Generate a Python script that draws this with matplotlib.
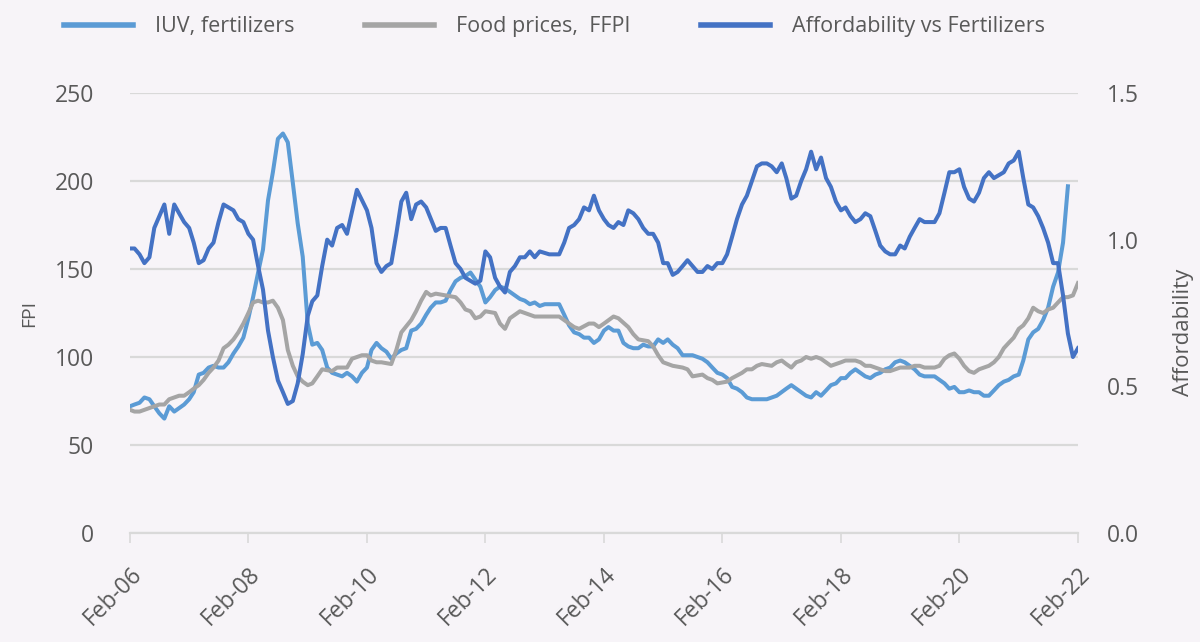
import pandas as pd
import matplotlib
matplotlib.use("Agg")
import matplotlib.pyplot as plt
import matplotlib.dates as mdates

# Kuukausia alkaen Feb-06 (0 = helmikuu 2006)
iuv_months = list(range(0, 85)) + list(range(86, 127)) + list(range(128, 132)) + list(range(133, 191))
iuv_values = [72, 73, 74, 77, 76, 72, 68, 65, 72, 69, 71, 73, 76, 80, 90, 91, 94, 95, 94, 94,
              97, 102, 106, 111, 122, 134, 148, 161, 189, 205, 224, 227, 222, 199, 176, 157, 119, 107, 108, 104,
              94, 91, 90, 89, 91, 89, 86, 91, 94, 104, 108, 105, 103, 99, 102, 104, 105, 115, 116, 119,
              124, 128, 131, 131, 132, 138, 143, 145, 146, 148, 144, 140, 131, 134, 138, 140, 139, 137, 135, 133,
              132, 130, 131, 129, 130,
              130, 130, 124, 118, 114, 113, 111, 111, 108, 110, 115, 117, 115, 115, 108, 106, 105, 105, 107, 106,
              106, 110, 108, 110, 107, 105, 101, 101, 101, 100, 99, 97, 94, 91, 90, 88, 83, 82, 80, 77, 76,
              76, 76, 77, 78,
              82, 84, 82, 80, 78, 77, 80, 78, 81, 84, 85, 88, 88, 91, 93, 91, 89, 88, 90, 91, 93, 94, 97, 98,
              97, 95, 93, 90, 89, 89, 89, 87, 85, 82, 83, 80, 80, 81, 80, 80, 78, 78, 81, 84, 86, 87, 89, 90,
              98, 110, 114, 116, 121, 128, 140, 148, 165, 197]

ffpi_months = (list(range(0, 40)) + [41, 42, 44, 45, 47, 48, 49, 50, 51, 53, 54, 55, 57, 58, 59, 60, 61, 62,
               64, 66, 67, 68, 69, 70, 71, 72, 74, 75, 76, 77, 78, 79, 81, 82, 84, 85, 87, 88, 90, 91, 93, 94,
               95, 96, 98, 99, 101, 102, 103, 105, 106, 107, 108, 110, 112, 113, 114, 116, 117, 118, 119, 121,
               122, 124, 125, 126, 127, 128] + list(range(130, 193)))
ffpi_values = [70, 69, 69, 70, 71, 72, 73, 73, 76, 77, 78, 78, 80, 82, 84, 87, 91, 94, 98, 105,
               107, 110, 114, 119, 125, 131, 132, 131, 131, 132, 128, 121, 104, 95, 89, 86, 84, 85, 89, 93,
               92, 94, 94, 99, 101, 101, 98, 97, 97, 96, 104, 114, 121, 126, 132, 137, 135, 136,
               135, 134, 131, 127, 126, 122, 123, 126, 125, 119, 116, 122, 124, 126, 124, 123, 123, 123,
               123, 121, 117, 116, 119, 119, 117, 119, 123, 122, 117, 113, 110, 109, 106, 101, 97, 95,
               94, 93, 89, 90, 88, 87, 85, 86, 88, 91, 93, 93, 95, 96,
               95, 97, 98, 96, 94, 97, 98, 100, 99, 100, 99, 97, 95, 96, 97, 98, 98, 98, 97, 95, 95,
               94, 93, 92, 92, 93, 94, 94, 94, 95, 95, 94, 94, 94, 95, 99, 101, 102, 99, 95, 92, 91,
               93, 94, 95, 97, 100, 105, 108, 111, 116, 118, 122, 128, 126, 125, 127, 128, 131, 134,
               134, 135, 142]

aff_months = (list(range(0, 20)) + list(range(21, 45)) + [46] + list(range(48, 61)) + list(range(62, 84))
              + list(range(85, 193)))
aff_values = [0.97, 0.97, 0.95, 0.92, 0.94, 1.04, 1.08, 1.12, 1.02, 1.12, 1.09, 1.06, 1.04, 0.99, 0.92,
              0.93, 0.97, 0.99, 1.06, 1.12,
              1.10, 1.07, 1.06, 1.02, 1.00, 0.91, 0.83, 0.69, 0.60, 0.52, 0.48, 0.44, 0.45, 0.51, 0.61,
              0.74, 0.79, 0.81, 0.91, 1.00, 0.98, 1.04, 1.05, 1.02,
              1.17,
              1.10, 1.04, 0.92, 0.89, 0.91, 0.92, 1.02, 1.13, 1.16, 1.07, 1.12, 1.13, 1.11,
              1.03, 1.04, 1.04, 0.98, 0.92, 0.90, 0.87, 0.86, 0.85, 0.86, 0.96, 0.94, 0.87, 0.84, 0.82,
              0.89, 0.91, 0.94, 0.94, 0.96, 0.94, 0.96,
              0.95, 0.95, 0.95, 0.99, 1.04, 1.05, 1.07, 1.11, 1.10, 1.15, 1.10, 1.07, 1.05, 1.04, 1.06,
              1.05, 1.10, 1.09, 1.07, 1.04, 1.02, 1.02, 0.99, 0.92, 0.92, 0.88, 0.89, 0.91, 0.93, 0.91,
              0.89, 0.89, 0.91, 0.90, 0.92, 0.92, 0.95, 1.01, 1.07, 1.12, 1.15, 1.20, 1.25, 1.26, 1.26,
              1.25, 1.23, 1.26, 1.21, 1.14, 1.15, 1.20, 1.24, 1.30, 1.24, 1.28, 1.21, 1.18, 1.13, 1.10,
              1.11, 1.08, 1.06, 1.07, 1.09, 1.08, 1.03, 0.98, 0.96, 0.95, 0.95, 0.98, 0.97, 1.01, 1.04,
              1.07, 1.06, 1.06, 1.06, 1.09, 1.16, 1.23, 1.23, 1.24, 1.18, 1.14, 1.13, 1.16, 1.21, 1.23,
              1.21, 1.22, 1.23, 1.26, 1.27, 1.30, 1.21, 1.12, 1.11, 1.08, 1.04, 0.99, 0.92, 0.92, 0.81,
              0.68, 0.60, 0.63]

assert len(iuv_months) == len(iuv_values)
assert len(ffpi_months) == len(ffpi_values)
assert len(aff_months) == len(aff_values)

start = pd.Timestamp("2006-02-01")


def to_dates(months):
    return [start + pd.DateOffset(months=m) for m in months]


bg = "#f7f4f8"
text_col = "#595959"
grid_col = "#d9d9d9"

plt.rcParams["font.family"] = ["Open Sans", "DejaVu Sans"]

fig = plt.figure(figsize=(12, 6.42), dpi=100, facecolor=bg)
ax = fig.add_axes([0.1083, 0.1698, 0.7900, 0.6853], facecolor=bg)
ax2 = ax.twinx()

l1, = ax.plot(to_dates(iuv_months), iuv_values, color="#5b9bd5", lw=2.9, label="IUV, fertilizers")
l2, = ax.plot(to_dates(ffpi_months), ffpi_values, color="#a5a5a5", lw=2.9, label="Food prices,  FFPI")
l3, = ax2.plot(to_dates(aff_months), aff_values, color="#4472c4", lw=2.9, label="Affordability vs Fertilizers")

ax.set_ylim(0, 250)
ax.set_yticks([0, 50, 100, 150, 200, 250])
ax2.set_ylim(0, 1.5)
ax2.set_yticks([0.0, 0.5, 1.0, 1.5])
ax2.yaxis.set_major_formatter(matplotlib.ticker.FormatStrFormatter("%.1f"))

ax.set_xlim(start, pd.Timestamp("2022-02-01"))
xt = [pd.Timestamp(f"{y}-02-01") for y in range(2006, 2023, 2)]
ax.set_xticks(xt)
ax.xaxis.set_major_formatter(mdates.DateFormatter("%b-%y"))

ax.grid(axis="y", color=grid_col, lw=1.6)
ax.set_axisbelow(True)
for a in (ax, ax2):
    for s in a.spines.values():
        s.set_visible(False)
ax.spines["bottom"].set_visible(True)
ax.spines["bottom"].set_color(grid_col)
ax.spines["bottom"].set_linewidth(1.6)

ax.tick_params(axis="y", length=0, pad=26, labelsize=16.5, labelcolor=text_col)
ax2.tick_params(axis="y", length=0, pad=21, labelsize=16.5, labelcolor=text_col)
ax.tick_params(axis="x", length=7, width=1.2, color=grid_col, pad=14, labelsize=16.5, labelcolor=text_col)
for lab in ax.get_xticklabels():
    lab.set_rotation(45)
    lab.set_ha("right")
    lab.set_rotation_mode("anchor")

ax.set_ylabel("FPI", fontsize=14, color=text_col, labelpad=12)
ax2.set_ylabel("Affordability", fontsize=16, color=text_col)
ax2.yaxis.set_label_coords(1.1, 0.455)

fig.legend(handles=[l1, l2, l3], loc="upper center", bbox_to_anchor=(0.462, 1.005), ncol=3,
           frameon=False, fontsize=15.5, labelcolor=text_col, handlelength=3.2, handletextpad=1.0,
           columnspacing=3.3)
for line in fig.legends[0].get_lines():
    line.set_linewidth(4)

fig.savefig("out.png", dpi=100, facecolor=bg)
